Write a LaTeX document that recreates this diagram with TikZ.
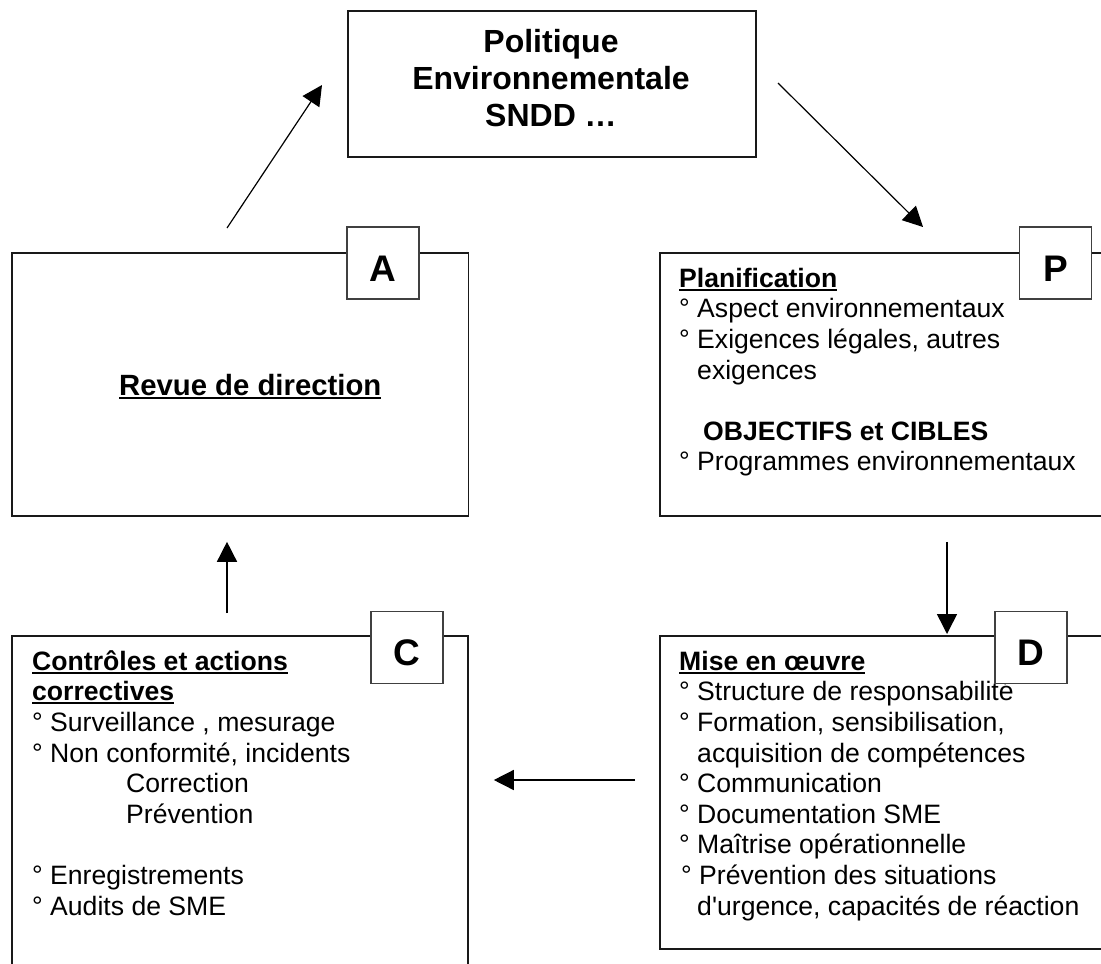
\documentclass[tikz,border=0pt]{standalone}
\usepackage{fontspec}
\setmainfont{Liberation Sans}[Ligatures=TeXOff]
\usetikzlibrary{arrows.meta}
\newcommand\ulbar[1]{\leavevmode\setbox0=\hbox{#1}\rlap{\rule[-3.5bp]{\wd0}{2bp}}\box0}
\begin{document}
\begin{tikzpicture}[x=1bp,y=-1bp,
  box/.style={draw=black!90,line width=1.8bp,rectangle,inner sep=0pt,anchor=north west},
  lab/.style={draw=black!75,fill=white,line width=1.5bp,rectangle,inner sep=0pt,minimum width=72bp,minimum height=72bp,font=\fontsize{37bp}{40bp}\selectfont\bfseries,text height=36.5bp,text depth=0pt},
  body/.style={inner sep=0pt,anchor=north west,align=left,font=\fontsize{26.6bp}{30.6bp}\selectfont},
  arr/.style={line width=1.5bp,-{Triangle[length=20bp,width=20bp]}},
]
\useasboundingbox (0,0) rectangle (1101,964);
\fill[white] (0,0) rectangle (1101,964);
\clip (0,0) rectangle (1101,964);

% boxes
\node[box,minimum width=408bp,minimum height=146bp] (T) at (347,10) {};
\node[box,minimum width=456.5bp,minimum height=263bp] (A) at (11,252) {};
\node[box,minimum width=480bp,minimum height=263bp] (P) at (659,252) {};
\node[box,minimum width=456bp,minimum height=380bp] (C) at (11,635) {};
\node[box,minimum width=480bp,minimum height=313bp] (D) at (659,635) {};

% texts
\node[inner sep=0pt,anchor=north,align=center,font=\fontsize{32bp}{37bp}\selectfont\bfseries] (Tt) at (551,26) {\strut Politique\\\strut Environnementale\\\strut SNDD …};

\node[inner sep=0pt,anchor=base west,font=\fontsize{29.3bp}{34bp}\selectfont\bfseries] (At) at (119,395) {\ulbar{Revue de direction}};

\node[body] (Pt) at (679,265.6) {\strut\ulbar{\textbf{Planification}}\\
\strut° Aspect environnementaux\\
\strut° Exigences légales, autres\\
\strut\phantom{° }exigences\\
\strut\\
\strut\hspace*{24bp}\textbf{OBJECTIFS et CIBLES}\\
\strut° Programmes environnementaux};

\node[body] (Ct) at (32,648.6) {\strut\ulbar{\textbf{Contrôles et actions}}\\
\strut\ulbar{\textbf{correctives}}\\
\strut° Surveillance , mesurage\\
\strut° Non conformité, incidents\\
\strut\hspace*{94bp}Correction\\
\strut\hspace*{94bp}Prévention\\
\strut\\
\strut° Enregistrements\\
\strut° Audits de SME};

\node[body] (Dt) at (679,648.6) {\strut\ulbar{\textbf{Mise en œuvre}}\\
\strut° Structure de responsabilité\\
\strut° Formation, sensibilisation,\\
\strut\phantom{° }acquisition de compétences\\
\strut° Communication\\
\strut° Documentation SME\\
\strut° Maîtrise opérationnelle\\
\strut\hspace*{2bp}° Prévention des situations\\
\strut\phantom{° }d'urgence, capacités de réaction};

% phase labels
\node[lab] (Al) at (383,263) {A};
\node[lab] (Pl) at (1055.5,263) {P};
\node[lab] (Cl) at (407,647.5) {C};
\node[lab] (Dl) at (1031,647.5) {D};

% connectors
\coordinate (xa) at (227,0);
\coordinate (xp) at (947,0);
\coordinate (yd) at (0,780);
\coordinate (r1) at (227,228);
\coordinate (r2) at (322,85);
\coordinate (s1) at (778,83);
\coordinate (s2) at (923,227);
\draw[arr,shorten <=22bp,shorten >=25bp] (C.north -| xa) -- (A.south -| xa);
\draw[arr,shorten <=25bp,shorten >=1bp] (P.south -| xp) -- (D.north -| xp);
\draw[arr,shorten <=24bp,shorten >=25bp] (D.west |- yd) -- (C.east |- yd);
\draw[arr,line width=1.2bp] (r1) -- (r2);
\draw[arr,line width=1.2bp] (s1) -- (s2);
\end{tikzpicture}
\end{document}
